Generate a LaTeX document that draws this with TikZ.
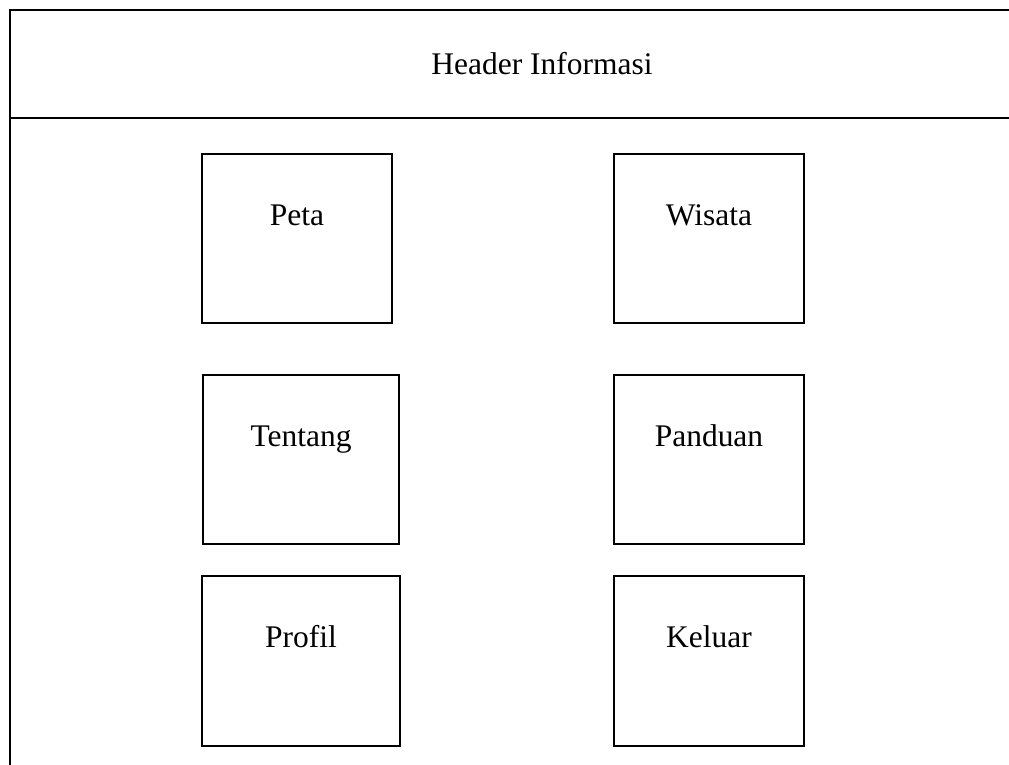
\documentclass[tikz,border=0pt]{standalone}
\usepackage{fontspec}
\setmainfont{Liberation Serif}
\usetikzlibrary{fit}
\begin{document}
\begin{tikzpicture}[x=0.75pt,y=-0.75pt,
  frame/.style={line width=1.6pt,line cap=rect},
  menubox/.style={draw,line width=1.6pt,inner sep=0pt,outer sep=0pt},
  lbl/.style={inner sep=0pt,anchor=base,font=\fontsize{23.6}{28}\selectfont}]
  \useasboundingbox (0,0) rectangle (1009,764);
  % page frame and header strip
  \coordinate (fbl) at (10,764);
  \coordinate (ftl) at (10,10);
  \coordinate (ftr) at (1009,10);
  \coordinate (hl) at (10,118);
  \coordinate (hr) at (1009,118);
  \draw[frame] (fbl) -- (ftl) -- (ftr);
  \draw[frame] (hl) -- (hr);
  \node[lbl] (header) at (542,74) {Header Informasi};
  % menu boxes
  \node[menubox,fit={(202,154)(392,323)}] (peta) {};
  \node[menubox,fit={(614,154)(804,323)}] (wisata) {};
  \node[menubox,fit={(203,375)(399,544)}] (tentang) {};
  \node[menubox,fit={(614,375)(804,544)}] (panduan) {};
  \node[menubox,fit={(202,576)(400,746)}] (profil) {};
  \node[menubox,fit={(614,576)(804,746)}] (keluar) {};
  % menu labels
  \node[lbl] (petaT) at (297,225) {Peta};
  \node[lbl] (wisataT) at (709,225) {Wisata};
  \node[lbl] (tentangT) at (301,446) {Tentang};
  \node[lbl] (panduanT) at (709,446) {Panduan};
  \node[lbl] (profilT) at (301,647) {Profil};
  \node[lbl] (keluarT) at (709,647) {Keluar};
\end{tikzpicture}
\end{document}
